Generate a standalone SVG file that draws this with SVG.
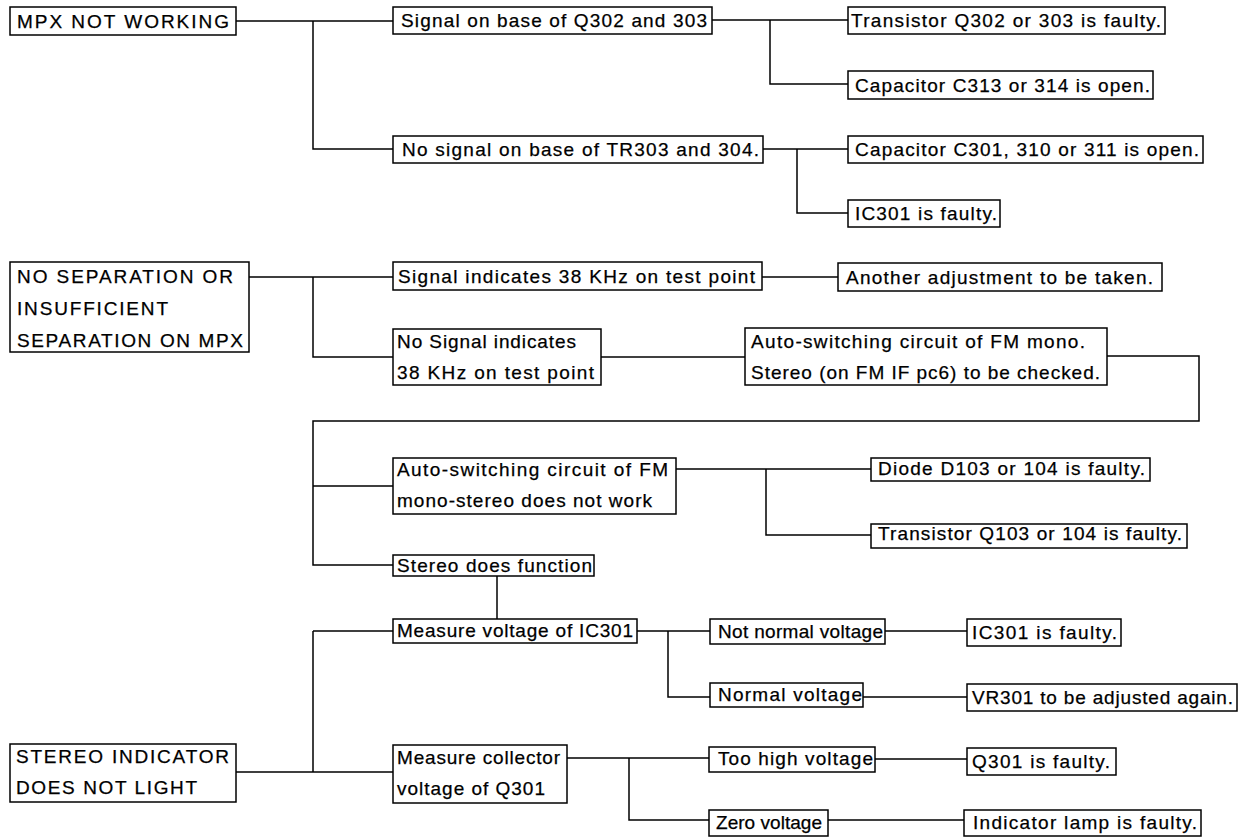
<svg xmlns="http://www.w3.org/2000/svg" width="1246" height="839" viewBox="0 0 1246 839">
<style>
rect{fill:#fff;stroke:#000;stroke-width:1.5}
text{font-family:"Liberation Sans",Arial,Helvetica,sans-serif;font-size:19px;fill:#000;stroke:#000;stroke-width:0.25}
.c{fill:none;stroke:#000;stroke-width:1.5}
</style>
<rect x="0" y="0" width="1246" height="839" style="stroke:none"/>
<g id="connectors" class="c">
<path class="c" d="M236 21H393M313 21V149H393"/>
<path class="c" d="M712 20H848M770 20V84H848"/>
<path class="c" d="M763 149H848M797 149V213H848"/>
<path class="c" d="M249 277H393M313 277V357H393"/>
<path class="c" d="M762 277H838"/>
<path class="c" d="M601 357H745"/>
<path class="c" d="M1107 356H1199V421H313V565H393M313 486H393"/>
<path class="c" d="M676 469H871M766 469V535H871"/>
<path class="c" d="M497 576V619"/>
<path class="c" d="M313 631H393M313 631V772M236 772H393"/>
<path class="c" d="M637 631H710M668 631V697H710"/>
<path class="c" d="M885 631H967M863 697H967"/>
<path class="c" d="M567 758H709M629 758V820H709"/>
<path class="c" d="M875 759H967M828 820H964"/>
</g>
<g id="n-mpx"><rect x="10" y="7" width="226" height="28"/><text x="17" y="28" textLength="212" lengthAdjust="spacing">MPX NOT WORKING</text></g>
<g id="n-sig-base"><rect x="393" y="7" width="319" height="27"/><text x="401" y="27" textLength="306" lengthAdjust="spacing">Signal on base of Q302 and 303</text></g>
<g id="n-nosig-base"><rect x="393" y="136" width="370" height="27"/><text x="402" y="156" textLength="357" lengthAdjust="spacing">No signal on base of TR303 and 304.</text></g>
<g id="n-tr-q302"><rect x="848" y="7" width="317" height="27"/><text x="851" y="27" textLength="310" lengthAdjust="spacing">Transistor Q302 or 303 is faulty.</text></g>
<g id="n-c313"><rect x="848" y="71" width="305" height="28"/><text x="855" y="92" textLength="295" lengthAdjust="spacing">Capacitor C313 or 314 is open.</text></g>
<g id="n-c301"><rect x="848" y="136" width="355" height="27"/><text x="855" y="156" textLength="344" lengthAdjust="spacing">Capacitor C301, 310 or 311 is open.</text></g>
<g id="n-ic301a"><rect x="848" y="200" width="152" height="27"/><text x="855" y="220" textLength="142" lengthAdjust="spacing">IC301 is faulty.</text></g>
<g id="n-nosep"><rect x="10" y="262" width="239" height="90"/><text x="17" y="283" textLength="216" lengthAdjust="spacing">NO SEPARATION OR</text><text x="17" y="315" textLength="151" lengthAdjust="spacing">INSUFFICIENT</text><text x="17" y="347" textLength="226" lengthAdjust="spacing">SEPARATION ON MPX</text></g>
<g id="n-sig38"><rect x="393" y="262" width="369" height="28"/><text x="398" y="283" textLength="357" lengthAdjust="spacing">Signal indicates 38 KHz on test point</text></g>
<g id="n-another"><rect x="838" y="263" width="324" height="28"/><text x="846" y="284" textLength="307" lengthAdjust="spacing">Another adjustment to be taken.</text></g>
<g id="n-nosig38"><rect x="393" y="329" width="208" height="56"/><text x="397" y="348" textLength="179" lengthAdjust="spacing">No Signal indicates</text><text x="397" y="379" textLength="197" lengthAdjust="spacing">38 KHz on test point</text></g>
<g id="n-autosw-check"><rect x="745" y="328" width="362" height="57"/><text x="751" y="348" textLength="334" lengthAdjust="spacing">Auto-switching circuit of FM mono.</text><text x="751" y="379" textLength="349" lengthAdjust="spacing">Stereo (on FM IF pc6) to be checked.</text></g>
<g id="n-autosw-fail"><rect x="393" y="458" width="283" height="56"/><text x="397" y="476" textLength="271" lengthAdjust="spacing">Auto-switching circuit of FM</text><text x="397" y="507" textLength="255" lengthAdjust="spacing">mono-stereo does not work</text></g>
<g id="n-diode"><rect x="871" y="458" width="279" height="23"/><text x="878" y="475" textLength="267" lengthAdjust="spacing">Diode D103 or 104 is faulty.</text></g>
<g id="n-tr-q103"><rect x="871" y="524" width="316" height="24"/><text x="878" y="540" textLength="304" lengthAdjust="spacing">Transistor Q103 or 104 is faulty.</text></g>
<g id="n-stereo-func"><rect x="393" y="555" width="201" height="21"/><text x="397" y="572" textLength="195" lengthAdjust="spacing">Stereo does function</text></g>
<g id="n-meas-ic"><rect x="393" y="619" width="244" height="24"/><text x="397" y="637" textLength="236" lengthAdjust="spacing">Measure voltage of IC301</text></g>
<g id="n-stereo-ind"><rect x="10" y="744" width="226" height="58"/><text x="16" y="763" textLength="213" lengthAdjust="spacing">STEREO INDICATOR</text><text x="16" y="794" textLength="181" lengthAdjust="spacing">DOES NOT LIGHT</text></g>
<g id="n-meas-col"><rect x="393" y="745" width="174" height="58"/><text x="397" y="764" textLength="163" lengthAdjust="spacing">Measure collector</text><text x="397" y="795" textLength="148" lengthAdjust="spacing">voltage of Q301</text></g>
<g id="n-notnormal"><rect x="710" y="619" width="175" height="25"/><text x="718" y="638" textLength="165" lengthAdjust="spacing">Not normal voltage</text></g>
<g id="n-ic301b"><rect x="967" y="619" width="154" height="27"/><text x="972" y="639" textLength="145" lengthAdjust="spacing">IC301 is faulty.</text></g>
<g id="n-normal"><rect x="710" y="683" width="153" height="24"/><text x="718" y="701" textLength="144" lengthAdjust="spacing">Normal voltage</text></g>
<g id="n-vr301"><rect x="967" y="684" width="270" height="27"/><text x="972" y="704" textLength="261" lengthAdjust="spacing">VR301 to be adjusted again.</text></g>
<g id="n-toohigh"><rect x="709" y="747" width="166" height="25"/><text x="718" y="765" textLength="155" lengthAdjust="spacing">Too high voltage</text></g>
<g id="n-q301"><rect x="967" y="748" width="149" height="27"/><text x="972" y="768" textLength="138" lengthAdjust="spacing">Q301 is faulty.</text></g>
<g id="n-zero"><rect x="709" y="810" width="119" height="26"/><text x="716" y="829" textLength="106" lengthAdjust="spacing">Zero voltage</text></g>
<g id="n-lamp"><rect x="964" y="810" width="237" height="26"/><text x="973" y="829" textLength="224" lengthAdjust="spacing">Indicator lamp is faulty.</text></g>
</svg>
